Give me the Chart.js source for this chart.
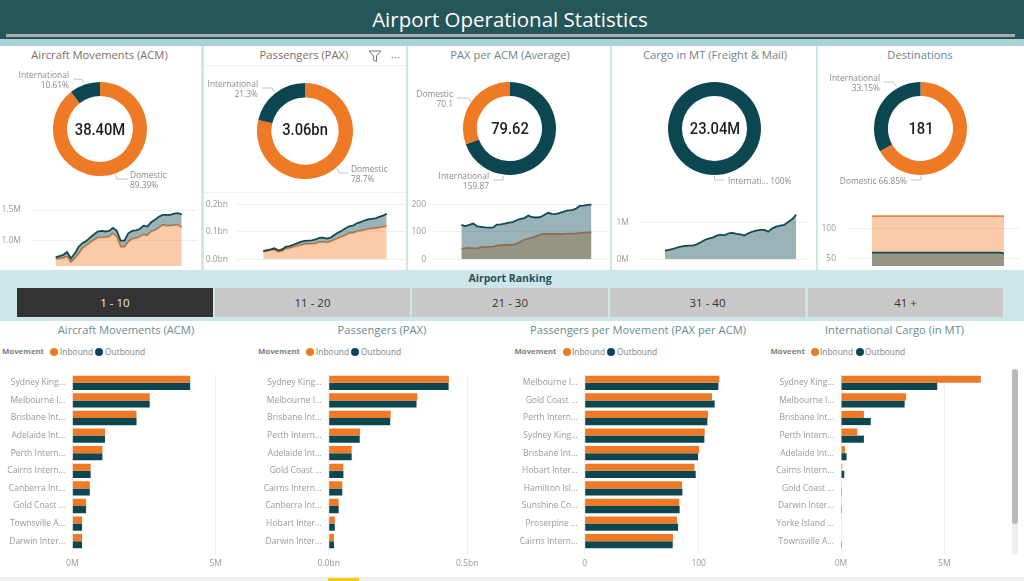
<!DOCTYPE html>
<html>
<head>
<meta charset="utf-8">
<title>Airport Operational Statistics</title>
<script src="https://cdn.jsdelivr.net/npm/chart.js"></script>
<style>
  html, body { margin: 0; padding: 0; }
  body { width: 1024px; height: 581px; overflow: hidden; position: relative; background: #cde6e8; font-family: "Open Sans", sans-serif; }
  canvas, .box, .txt { position: absolute; }
  .txt { white-space: nowrap; line-height: 1; }
  .title { font-size: 11.2px; transform: translate(-50%, -50%); }
  .center { font-family: Roboto, sans-serif; font-size: 16px; font-weight: 500; color: #1d1d1d; transform: translate(-50%, -50%) scaleX(0.92); }
  .lab { font-size: 8.4px; color: #8a8a8a; transform: translateY(-50%); }
  .r { transform: translate(-100%, -50%); }
  .btn { top: 288px; height: 29px; background: #c8c8c8; color: #333; font-size: 11.5px; line-height: 29px; text-align: center; }
  .lg { font-size: 8.4px; color: #808080; transform: translateY(-50%); top: 352px; }
  .lgb { font-size: 7.8px; font-weight: 700; }
  .dot { width: 8px; height: 8px; border-radius: 50%; top: 348px; }
</style>
</head>
<body>
  <div class="box" style="left:0;top:0;width:1024px;height:39px;background:#25575a"></div>
  <div class="box" style="left:6px;top:34px;width:1009px;height:3px;background:#a8acab"></div>
  <div class="box" style="left:0;top:39px;width:1024px;height:7px;background:#a9d1d7"></div>
  <div class="txt" style="left:510px;top:19px;transform:translate(-50%,-50%);color:#fff;font-size:20.5px">Airport Operational Statistics</div>

  <div class="box" style="left:0;top:46px;width:201px;height:224px;background:#fff"></div>
  <div class="box" style="left:204px;top:46px;width:202px;height:224px;background:#fff"></div>
  <div class="box" style="left:408px;top:46px;width:202px;height:224px;background:#fff"></div>
  <div class="box" style="left:612px;top:46px;width:204px;height:224px;background:#fff"></div>
  <div class="box" style="left:818px;top:46px;width:206px;height:224px;background:#fff"></div>
  <div class="box" style="left:204px;top:65px;width:202px;height:1px;background:#eef2f2"></div>
  <div class="box" style="left:204px;top:192px;width:202px;height:1px;background:#eef2f2"></div>

  <div class="txt title" style="left:99.5px;top:55px;color:#7d6e66">Aircraft Movements (ACM)</div>
  <div class="txt title" style="left:304px;top:55px;color:#7d6e66">Passengers (PAX)</div>
  <div class="txt title" style="left:510px;top:55px;color:#6f8488">PAX per ACM (Average)</div>
  <div class="txt title" style="left:715px;top:55px;color:#6f8488">Cargo in MT (Freight &amp; Mail)</div>
  <div class="txt title" style="left:920px;top:55px;color:#6f8488">Destinations</div>

  <svg class="box" style="left:367px;top:49px" width="16" height="14"><path d="M2 2H14L9.5 7V12.5L6.5 11V7Z" fill="none" stroke="#777" stroke-width="1"/></svg>
  <div class="txt" style="left:391px;top:52px;font-size:10px;color:#666;letter-spacing:0.5px">···</div>

  <canvas id="donutAcm" width="94" height="94" style="left:53px;top:82px"></canvas>
  <canvas id="donutPax" width="96" height="96" style="left:257px;top:83px"></canvas>
  <canvas id="donutAvg" width="93" height="93" style="left:463px;top:82px"></canvas>
  <canvas id="donutCargo" width="93" height="93" style="left:668px;top:82px"></canvas>
  <canvas id="donutDest" width="93" height="93" style="left:874px;top:82px"></canvas>

  <div class="txt center" style="left:99.5px;top:129.5px">38.40M</div>
  <div class="txt center" style="left:305px;top:130px">3.06bn</div>
  <div class="txt center" style="left:509.5px;top:129px">79.62</div>
  <div class="txt center" style="left:714.5px;top:129px">23.04M</div>
  <div class="txt center" style="left:920.5px;top:129px">181</div>

  <svg class="box" style="left:0;top:0;pointer-events:none" width="1024" height="200">
    <g fill="none" stroke="#c4c4c4" stroke-width="1">
      <polyline points="73,79 82,79.5 83.5,83"/>
      <polyline points="115,174 117,179 128,179"/>
      <polyline points="262,88 272,88 274,92"/>
      <polyline points="337,168 339,173 348,173"/>
      <polyline points="457,98 468,98 471,102"/>
      <polyline points="493,180 503,180 503,176"/>
      <polyline points="714.5,176 714.5,180 724,180"/>
      <polyline points="884,82 893,82 897,87"/>
      <polyline points="911,180 921,180 921,176"/>
    </g>
  </svg>
  <div class="txt lab r" style="left:69px;top:75px">International</div>
  <div class="txt lab r" style="left:69px;top:85px">10.61%</div>
  <div class="txt lab" style="left:130px;top:175px">Domestic</div>
  <div class="txt lab" style="left:130px;top:185px">89.39%</div>
  <div class="txt lab r" style="left:258px;top:84px">International</div>
  <div class="txt lab r" style="left:258px;top:94px">21.3%</div>
  <div class="txt lab" style="left:351px;top:169px">Domestic</div>
  <div class="txt lab" style="left:351px;top:179px">78.7%</div>
  <div class="txt lab r" style="left:453px;top:94px">Domestic</div>
  <div class="txt lab r" style="left:453px;top:104px">70.1</div>
  <div class="txt lab r" style="left:489px;top:176px">International</div>
  <div class="txt lab r" style="left:489px;top:186px">159.87</div>
  <div class="txt lab" style="left:728px;top:181px">Internati... 100%</div>
  <div class="txt lab r" style="left:880px;top:78px">International</div>
  <div class="txt lab r" style="left:880px;top:88px">33.15%</div>
  <div class="txt lab r" style="left:907px;top:181px">Domestic 66.85%</div>

  <canvas id="sparkAcm" width="201" height="70" style="left:0;top:200px"></canvas>
  <canvas id="sparkPax" width="202" height="70" style="left:204px;top:200px"></canvas>
  <canvas id="sparkAvg" width="202" height="70" style="left:408px;top:200px"></canvas>
  <canvas id="sparkCargo" width="204" height="70" style="left:612px;top:200px"></canvas>
  <canvas id="sparkDest" width="206" height="70" style="left:818px;top:200px"></canvas>

  <div class="txt" style="left:510px;top:278px;transform:translate(-50%,-50%);font-size:10.5px;font-weight:700;color:#24505a">Airport Ranking</div>
  <div class="box btn" style="left:17px;width:196px;background:#333;color:#eee">1 - 10</div>
  <div class="box btn" style="left:215px;width:195px">11 - 20</div>
  <div class="box btn" style="left:412px;width:196px">21 - 30</div>
  <div class="box btn" style="left:610px;width:195px">31 - 40</div>
  <div class="box btn" style="left:808px;width:195px">41 +</div>

  <div class="box" style="left:0;top:321px;width:1024px;height:256px;background:#fff"></div>
  <div class="box" style="left:0;top:577px;width:1024px;height:4px;background:#eeeeee"></div>
  <div class="box" style="left:328px;top:578px;width:31px;height:3px;background:#f2c811"></div>

  <div class="txt title" style="left:126px;top:330px;color:#6a8c8e">Aircraft Movements (ACM)</div>
  <div class="txt title" style="left:382px;top:330px;color:#6a8c8e">Passengers (PAX)</div>
  <div class="txt title" style="left:638px;top:330px;color:#6a8c8e">Passengers per Movement (PAX per ACM)</div>
  <div class="txt title" style="left:894.5px;top:330px;color:#6a8c8e">International Cargo (in MT)</div>

  <div class="txt lg lgb" style="left:2px">Movement</div>
  <div class="box dot" style="left:50px;background:#ee7a26"></div><div class="txt lg" style="left:60px">Inbound</div>
  <div class="box dot" style="left:95px;background:#0c4751"></div><div class="txt lg" style="left:105px">Outbound</div>
  <div class="txt lg lgb" style="left:258px">Movement</div>
  <div class="box dot" style="left:306px;background:#ee7a26"></div><div class="txt lg" style="left:316px">Inbound</div>
  <div class="box dot" style="left:351px;background:#0c4751"></div><div class="txt lg" style="left:361px">Outbound</div>
  <div class="txt lg lgb" style="left:514.5px">Movement</div>
  <div class="box dot" style="left:563px;background:#ee7a26"></div><div class="txt lg" style="left:572px">Inbound</div>
  <div class="box dot" style="left:607px;background:#0c4751"></div><div class="txt lg" style="left:617px">Outbound</div>
  <div class="txt lg lgb" style="left:770.5px">Moveent</div>
  <div class="box dot" style="left:811px;background:#ee7a26"></div><div class="txt lg" style="left:820px">Inbound</div>
  <div class="box dot" style="left:856px;background:#0c4751"></div><div class="txt lg" style="left:865px">Outbound</div>

  <canvas id="barAcm" width="230" height="201" style="left:0;top:374px"></canvas>
  <canvas id="barPax" width="230" height="201" style="left:256px;top:374px"></canvas>
  <canvas id="barAvg" width="230" height="201" style="left:512px;top:374px"></canvas>
  <canvas id="barCargo" width="230" height="201" style="left:768px;top:374px"></canvas>

  <div class="box" style="left:1012px;top:369px;width:6px;height:186px;background:#eeeeee;border-radius:3px"></div>
  <div class="box" style="left:1012px;top:369px;width:6px;height:155px;background:#b9b9b9;border-radius:3px"></div>

<script>
  const ORANGE = "#ee7a26";
  const TEAL = "#0c4751";

  // donut splits, domestic / international
  const acmSplit = [89.39, 10.61];
  const paxSplit = [78.7, 21.3];
  const avgSplit = [159.87, 70.1]; // international first on this one
  const cargoSplit = [100];
  const destSplit = [66.85, 33.15];

  // small area charts under the donuts
  const acmTotal = [0.73, 0.75, 0.77, 0.815, 0.71, 0.79, 0.9, 0.96, 0.995, 1.05, 1.1, 1.15, 1.16, 1.15, 1.16, 1.21, 1.16, 1.0, 1.0, 1.12, 1.16, 1.17, 1.19, 1.245, 1.23, 1.3, 1.34, 1.39, 1.42, 1.42, 1.42, 1.44, 1.45, 1.43];
  const acmDomestic = [0.7, 0.71, 0.72, 0.74, 0.65, 0.71, 0.79, 0.875, 0.92, 0.97, 1.01, 1.05, 1.055, 1.055, 1.065, 1.12, 1.065, 0.9, 0.9, 0.98, 1.03, 1.04, 1.065, 1.1, 1.09, 1.15, 1.17, 1.21, 1.255, 1.245, 1.245, 1.255, 1.255, 1.22];
  const paxTotal = [0.03, 0.033, 0.036, 0.04, 0.032, 0.036, 0.045, 0.048, 0.053, 0.058, 0.063, 0.067, 0.068, 0.069, 0.072, 0.078, 0.079, 0.075, 0.079, 0.088, 0.097, 0.104, 0.113, 0.12, 0.122, 0.131, 0.135, 0.141, 0.145, 0.147, 0.149, 0.154, 0.159, 0.165];
  const paxDomestic = [0.028, 0.03, 0.033, 0.035, 0.027, 0.03, 0.038, 0.041, 0.045, 0.048, 0.052, 0.055, 0.056, 0.056, 0.058, 0.062, 0.063, 0.061, 0.065, 0.071, 0.077, 0.082, 0.088, 0.095, 0.096, 0.101, 0.104, 0.107, 0.11, 0.112, 0.113, 0.115, 0.118, 0.121];
  const avgInternational = [125, 121, 125, 130, 120, 118, 116, 115, 115, 126, 127, 130, 133, 135, 142, 147, 150, 159, 153, 152, 153, 161, 169, 165, 164, 169, 173, 178, 179, 183, 194, 195, 198, 199];
  const avgDomestic = [38, 41, 42, 40, 40, 44, 44, 45, 46, 50, 51, 52, 52, 53, 56, 64, 72, 75, 79, 84, 90, 92, 92, 91, 92, 92, 92, 93, 93, 93, 96, 96, 98, 98];
  const cargoInternational = [0.234, 0.252, 0.279, 0.315, 0.342, 0.36, 0.369, 0.369, 0.405, 0.459, 0.523, 0.559, 0.586, 0.64, 0.667, 0.649, 0.703, 0.712, 0.685, 0.676, 0.64, 0.703, 0.748, 0.775, 0.793, 0.793, 0.748, 0.838, 0.883, 0.91, 0.928, 1.009, 1.081, 1.207];
  const destDomestic = [121, 121, 121, 121, 121, 121, 121, 121, 121, 121, 121, 121, 121, 121, 121, 121, 121, 121, 121, 121, 121, 121, 121, 121, 121, 121, 121, 121, 121, 121, 121, 121, 121, 121];
  const destInternational = [60, 60, 60, 60, 60, 60, 60, 60, 60, 60, 60, 60, 60, 60, 60, 60, 60, 60, 60, 60, 60, 60, 60, 60, 60, 60, 60, 60, 60, 60, 60, 60, 60, 59];

  // ranking bars
  const acmAirports = ["Sydney King...", "Melbourne I...", "Brisbane Int...", "Adelaide Int...", "Perth Intern...", "Cairns Intern...", "Canberra Int...", "Gold Coast ...", "Townsville A...", "Darwin Inter..."];
  const acmInbound = [4.11, 2.7, 2.24, 1.14, 1.05, 0.64, 0.61, 0.48, 0.34, 0.34];
  const acmOutbound = [4.11, 2.7, 2.24, 1.14, 1.05, 0.64, 0.61, 0.48, 0.34, 0.34];

  const paxAirports = ["Sydney King...", "Melbourne I...", "Brisbane Int...", "Perth Intern...", "Adelaide Int...", "Gold Coast ...", "Cairns Intern...", "Canberra Int...", "Hobart Inter...", "Darwin Inter..."];
  const paxInbound = [0.434, 0.32, 0.224, 0.113, 0.083, 0.053, 0.049, 0.036, 0.022, 0.019];
  const paxOutbound = [0.433, 0.317, 0.222, 0.112, 0.083, 0.053, 0.049, 0.036, 0.022, 0.019];

  const avgAirports = ["Melbourne I...", "Gold Coast ...", "Perth Intern...", "Sydney King...", "Brisbane Int...", "Hobart Inter...", "Hamilton Isl...", "Sunshine Co...", "Proserpine ...", "Cairns Intern..."];
  const avgInbound = [118.1, 111.7, 108.2, 105.3, 100.3, 96.2, 85.4, 83, 81, 77.5];
  const avgOutbound = [117.3, 114, 107.6, 105, 99.4, 97.4, 85.7, 83.3, 81.9, 77.2];

  const cargoAirports = ["Sydney King...", "Melbourne I...", "Brisbane Int...", "Perth Intern...", "Adelaide Int...", "Cairns Intern...", "Gold Coast ...", "Darwin Inter...", "Yorke Island ...", "Townsville A..."];
  const cargoInbound = [6.77, 3.15, 1.11, 0.79, 0.19, 0.06, 0.03, 0.03, 0.03, 0];
  const cargoOutbound = [4.66, 3.08, 1.44, 1.11, 0.27, 0.16, 0.04, 0.04, 0, 0.04];

  Chart.defaults.animation = false;
  Chart.defaults.responsive = false;
  Chart.defaults.font.family = '"Open Sans", sans-serif';

  function makeDonut(id, labels, values, colors) {
    new Chart(document.getElementById(id), {
      type: "doughnut",
      data: { labels: labels, datasets: [{ data: values, backgroundColor: colors, borderWidth: 0 }] },
      options: { cutout: "70%", plugins: { legend: { display: false }, tooltip: { enabled: false } } },
    });
  }

  // teal series goes first so it paints over the orange one
  function makeSpark(id, opt) {
    const datasets = [];
    if (opt.teal) {
      datasets.push({
        data: opt.teal.map((v, i) => ({ x: i, y: v })),
        borderColor: "#134a50",
        backgroundColor: "rgba(15,74,85,0.42)",
        borderWidth: 1.8,
        pointRadius: 0,
        fill: opt.stacked ? 1 : "start",
      });
    }
    if (opt.orange) {
      datasets.push({
        data: opt.orange.map((v, i) => ({ x: i, y: v })),
        borderColor: "#ec8a4c",
        backgroundColor: "rgba(240,125,38,0.4)",
        borderWidth: 1.8,
        pointRadius: 0,
        fill: "start",
      });
    }
    new Chart(document.getElementById(id), {
      type: "line",
      data: { datasets: datasets },
      options: {
        layout: { autoPadding: false, padding: { top: 0, left: 0, right: opt.right, bottom: opt.bottom } },
        plugins: { legend: { display: false }, tooltip: { enabled: false } },
        scales: {
          x: { type: "linear", display: false, min: opt.xMin, max: opt.xMax },
          y: {
            min: opt.yMin,
            max: opt.yMax,
            // tick labels must not push the plot area in
            afterFit: (s) => { s.width = opt.axis; s.paddingTop = 0; s.paddingBottom = 0; },
            afterBuildTicks: (s) => { s.ticks = opt.ticks.map((v) => ({ value: v })); },
            border: { display: false },
            grid: { color: "#eef0f0", drawTicks: false },
            ticks: { color: "#999", font: { size: 8.5 }, padding: opt.pad, callback: opt.fmt },
          },
        },
      },
    });
  }

  function makeBars(id, airports, inbound, outbound, opt) {
    new Chart(document.getElementById(id), {
      type: "bar",
      data: {
        labels: airports,
        datasets: [
          { label: "Inbound", data: inbound, backgroundColor: ORANGE },
          { label: "Outbound", data: outbound, backgroundColor: TEAL },
        ],
      },
      options: {
        indexAxis: "y",
        layout: { autoPadding: false, padding: 0 },
        datasets: { bar: { categoryPercentage: 0.81, barPercentage: 1 } },
        plugins: { legend: { display: false }, tooltip: { enabled: false } },
        scales: {
          x: {
            min: 0,
            max: opt.max,
            afterFit: (s) => { s.height = 25; s.paddingLeft = 0; s.paddingRight = 0; },
            afterBuildTicks: (s) => { s.ticks = opt.ticks.map((v) => ({ value: v })); },
            border: { display: false },
            grid: { color: "#eef0f0", tickLength: 5 },
            ticks: { color: "#999", font: { size: 8.5 }, padding: 3, maxRotation: 0, callback: opt.fmt },
          },
          y: {
            afterFit: (s) => { s.width = opt.axis; s.paddingTop = 0; s.paddingBottom = 0; },
            border: { display: false },
            grid: { display: false, drawTicks: false },
            ticks: { color: "#999", font: { size: 8.5 }, padding: 7, autoSkip: false },
          },
        },
      },
    });
  }

  makeDonut("donutAcm", ["Domestic", "International"], acmSplit, [ORANGE, TEAL]);
  makeDonut("donutPax", ["Domestic", "International"], paxSplit, [ORANGE, TEAL]);
  makeDonut("donutAvg", ["International", "Domestic"], avgSplit, [TEAL, ORANGE]);
  makeDonut("donutCargo", ["International"], cargoSplit, [TEAL]);
  makeDonut("donutDest", ["Domestic", "International"], destSplit, [ORANGE, TEAL]);

  makeSpark("sparkAcm", { teal: acmTotal, orange: acmDomestic, stacked: true, xMin: -6.2, xMax: 37, yMin: 0.588, yMax: 1.663, ticks: [1, 1.5], axis: 32, right: 4, bottom: 4, pad: 11, fmt: (v) => v.toFixed(1) + "M" });
  makeSpark("sparkPax", { teal: paxTotal, orange: paxDomestic, stacked: true, xMin: -7.03, xMax: 37.9, yMin: 0, yMax: 0.2156, ticks: [0, 0.1, 0.2], axis: 33, right: 1, bottom: 10.7, pad: 9, fmt: (v) => v.toFixed(1) + "bn" });
  makeSpark("sparkAvg", { teal: avgInternational, orange: avgDomestic, xMin: -7.2, xMax: 37.2, yMin: 0, yMax: 215.6, ticks: [0, 100, 200], axis: 25, right: 2, bottom: 10.7, pad: 7, fmt: (v) => v });
  makeSpark("sparkCargo", { teal: cargoInternational, xMin: -6.8, xMax: 36.5, yMin: 0, yMax: 1.603, ticks: [0, 1], axis: 26, right: 6, bottom: 10.7, pad: 9, fmt: (v) => v + "M" });
  makeSpark("sparkDest", { teal: destInternational, orange: destDomestic, xMin: -6.5, xMax: 37, yMin: 37.8, yMax: 147.8, ticks: [50, 100], axis: 28, right: 4, bottom: 4, pad: 10, fmt: (v) => v });

  makeBars("barAcm", acmAirports, acmInbound, acmOutbound, { axis: 72.3, max: 5.5, ticks: [0, 5], fmt: (v) => v + "M" });
  makeBars("barPax", paxAirports, paxInbound, paxOutbound, { axis: 72.7, max: 0.568, ticks: [0, 0.5], fmt: (v) => v.toFixed(1) + "bn" });
  makeBars("barAvg", avgAirports, avgInbound, avgOutbound, { axis: 72.7, max: 138, ticks: [0, 100], fmt: (v) => v });
  makeBars("barCargo", cargoAirports, cargoInbound, cargoOutbound, { axis: 73, max: 7.6, ticks: [0, 5], fmt: (v) => v + "M" });
</script>
</body>
</html>
